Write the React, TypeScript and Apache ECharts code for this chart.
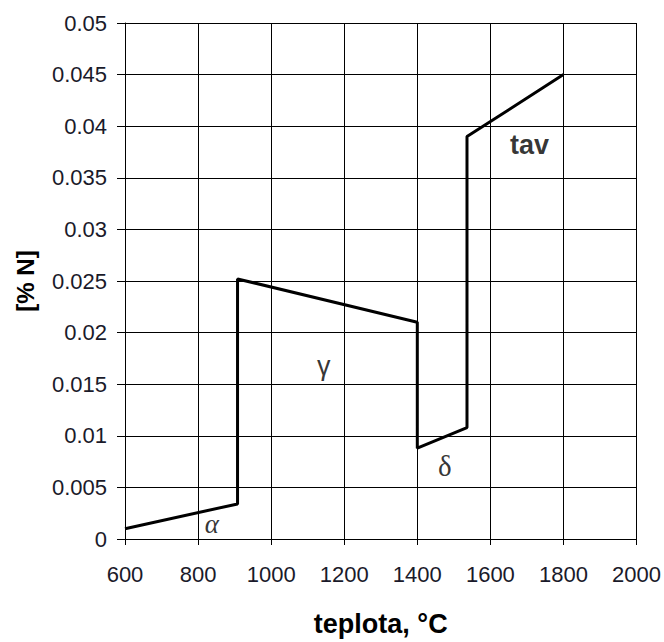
import React, { useEffect, useRef } from "react";
import * as echarts from "echarts";

const temperature = [600, 908, 908, 1400, 1400, 1536, 1536, 1800];
const nitrogen = [0.001, 0.0034, 0.0252, 0.021, 0.0088, 0.0108, 0.039, 0.045];

const phaseNames = ["α", "γ", "δ", "tav"];
const phaseX = [838, 1144, 1475, 1707];
const phaseY = [0.0015, 0.0168, 0.0071, 0.0382];

const SANS = "'Liberation Sans', Arial, sans-serif";
const SERIF = "'Liberation Serif', 'Times New Roman', serif";

const phaseStyles: Record<string, any> = {
  "α": { fontFamily: SERIF, fontSize: 27, fontStyle: "italic" },
  "γ": { fontFamily: SANS, fontSize: 27 },
  "δ": { fontFamily: SERIF, fontSize: 29 },
  tav: { fontFamily: SANS, fontSize: 27, fontWeight: "bold" },
};

export default function App() {
  const ref = useRef<HTMLDivElement>(null);
  useEffect(() => {
    if (!ref.current) return;
    const chart = echarts.init(ref.current, null, { renderer: "svg" });
    chart.setOption({
      animation: false,
      backgroundColor: "#ffffff",
      grid: { left: 125, right: 27, top: 23, bottom: 97 },
      xAxis: {
        type: "value",
        min: 600,
        max: 2000,
        interval: 200,
        name: "teplota, °C",
        nameLocation: "middle",
        nameGap: 71,
        nameTextStyle: { fontFamily: SANS, fontSize: 27, fontWeight: "bold", color: "#000" },
        axisLine: { show: true, lineStyle: { color: "#000", width: 1 } },
        axisTick: { show: true, length: 6, lineStyle: { color: "#000" } },
        axisLabel: {
          margin: 24,
          fontFamily: SANS,
          fontSize: 22,
          color: "#1a1a2a",
          formatter: (v: number) => String(v),
        },
        splitLine: { show: true, lineStyle: { color: "#000", width: 1 } },
      },
      yAxis: {
        type: "value",
        min: 0,
        max: 0.05,
        interval: 0.005,
        name: "[% N]",
        nameLocation: "middle",
        nameRotate: 90,
        nameGap: 88,
        nameTextStyle: { fontFamily: SANS, fontSize: 24, fontWeight: "bold", color: "#000" },
        axisLine: { show: true, lineStyle: { color: "#000", width: 1 } },
        axisTick: { show: true, length: 8, lineStyle: { color: "#000" } },
        axisLabel: {
          margin: 18,
          fontFamily: SANS,
          fontSize: 22,
          color: "#1a1a2a",
          formatter: (v: number) => String(parseFloat(v.toFixed(4))),
        },
        splitLine: { show: true, lineStyle: { color: "#000", width: 1 } },
      },
      series: [
        {
          type: "line",
          data: temperature.map((t, i) => [t, nitrogen[i]]),
          showSymbol: false,
          symbol: "none",
          lineStyle: { color: "#000", width: 3 },
          z: 3,
        },
        {
          type: "scatter",
          symbolSize: 0,
          data: phaseNames.map((n, i) => ({
            value: [phaseX[i], phaseY[i]],
            name: n,
            label: phaseStyles[n],
          })),
          label: {
            show: true,
            position: "inside",
            formatter: (p: any) => p.name,
            color: "#000",
          },
          z: 4,
        },
      ],
    });
    return () => chart.dispose();
  }, []);
  return (
    <div
      ref={ref}
      style={{ position: "fixed", left: 0, top: 0, width: 664, height: 642, background: "#fff" }}
    />
  );
}
